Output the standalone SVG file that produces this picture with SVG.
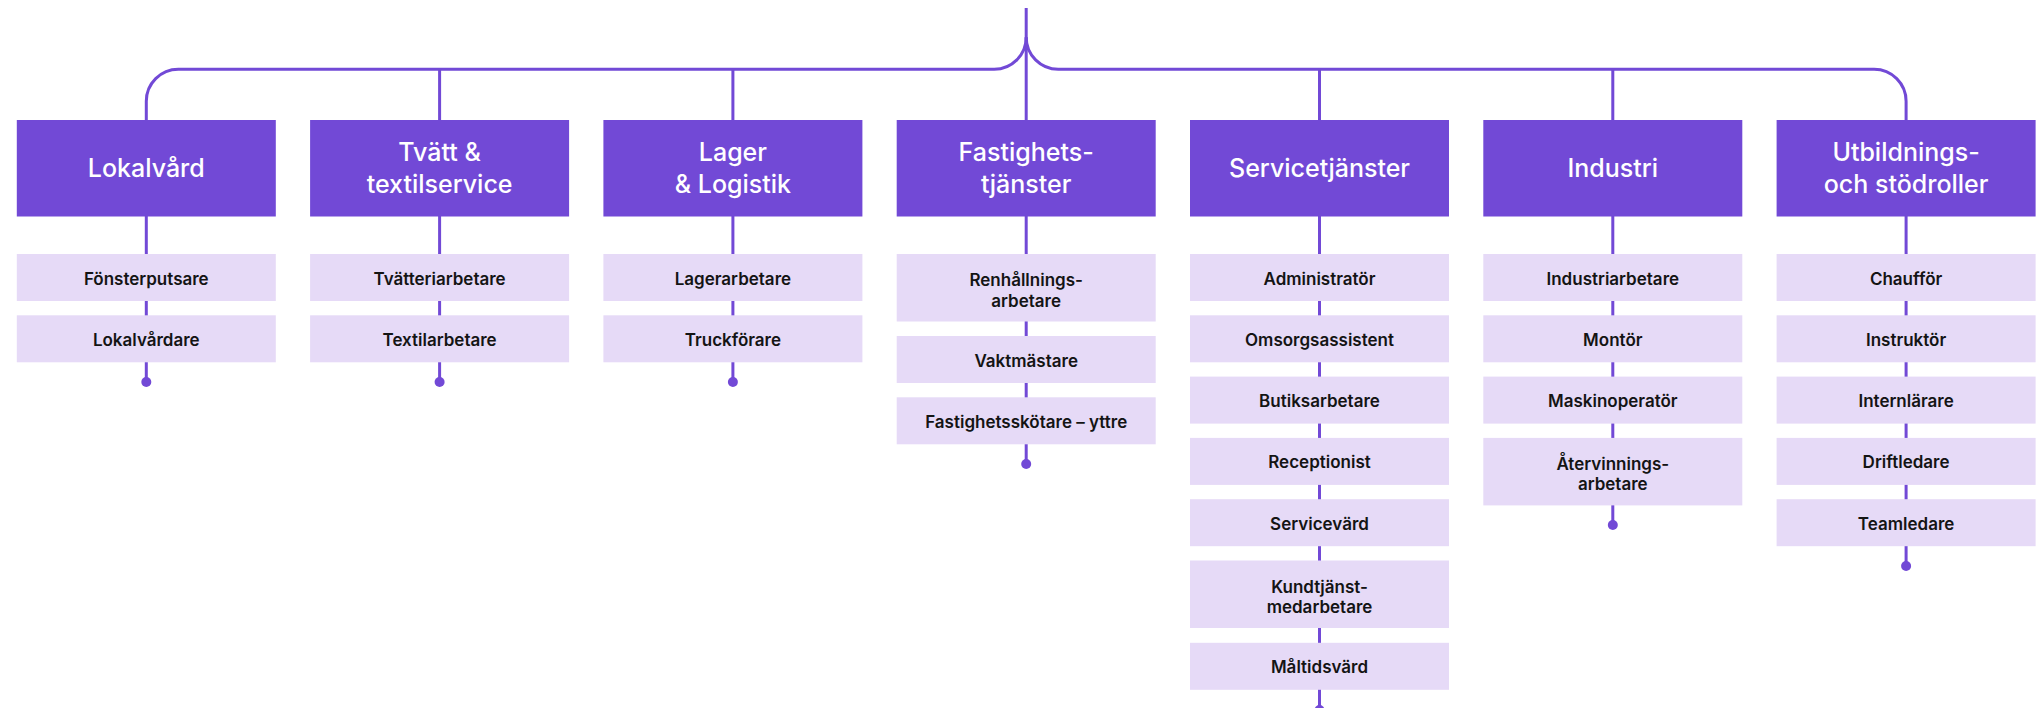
<svg xmlns="http://www.w3.org/2000/svg" width="2036" height="708" viewBox="0 0 2036 708">
<style>
.hdr{fill:#7249D6}
.itm{fill:#E6DAF7}
.ht{font-family:Inter,"Noto Sans",sans-serif;font-size:25px;font-weight:500;fill:#FFFFFF;text-anchor:middle}
.it{font-family:Inter,"Noto Sans",sans-serif;font-size:17px;font-weight:600;fill:#141414;text-anchor:middle}
.ln{fill:none;stroke:#7249D6;stroke-width:3}
.dot{fill:#7249D6}
</style>
<rect width="2036" height="708" fill="#FFFFFF"/>
<g id="connectors">
<path class="ln" d="M1026.2 8 V120"/>
<path class="ln" d="M146.3 120 V101.3 A32 32 0 0 1 178.3 69.3 H994.2 A32 32 0 0 0 1026.2 37.3"/>
<path class="ln" d="M1026.2 37.3 A32 32 0 0 0 1058.2 69.3 H1874.1 A32 32 0 0 1 1906.1 101.3 V120"/>
<path class="ln" d="M439.6 69.3 V120 M732.9 69.3 V120 M1319.5 69.3 V120 M1612.8 69.3 V120"/>
<path class="ln" d="M146.3 216 V382"/>
<path class="ln" d="M439.6 216 V382"/>
<path class="ln" d="M732.9 216 V382"/>
<path class="ln" d="M1026.2 216 V464"/>
<path class="ln" d="M1319.5 216 V710"/>
<path class="ln" d="M1612.8 216 V525"/>
<path class="ln" d="M1906.1 216 V566"/>
<circle class="dot" cx="146.3" cy="382" r="5"/>
<circle class="dot" cx="439.6" cy="382" r="5"/>
<circle class="dot" cx="732.9" cy="382" r="5"/>
<circle class="dot" cx="1026.2" cy="464" r="5"/>
<circle class="dot" cx="1319.5" cy="710" r="5"/>
<circle class="dot" cx="1612.8" cy="525" r="5"/>
<circle class="dot" cx="1906.1" cy="566" r="5"/>
</g>
<g id="h-lokalvard"><rect class="hdr" x="16.8" y="120" width="259" height="96.5"/><text class="ht" x="146.3" y="177">Lokalvård</text></g>
<g id="h-tvatt"><rect class="hdr" x="310.1" y="120" width="259" height="96.5"/><text class="ht" x="439.6" y="161">Tvätt &amp;</text><text class="ht" x="439.6" y="192.5">textilservice</text></g>
<g id="h-lager"><rect class="hdr" x="603.4" y="120" width="259" height="96.5"/><text class="ht" x="732.9" y="161">Lager</text><text class="ht" x="732.9" y="192.5">&amp; Logistik</text></g>
<g id="h-fastighet"><rect class="hdr" x="896.7" y="120" width="259" height="96.5"/><text class="ht" x="1026.2" y="161">Fastighets-</text><text class="ht" x="1026.2" y="192.5">tjänster</text></g>
<g id="h-service"><rect class="hdr" x="1190" y="120" width="259" height="96.5"/><text class="ht" x="1319.5" y="177">Servicetjänster</text></g>
<g id="h-industri"><rect class="hdr" x="1483.3" y="120" width="259" height="96.5"/><text class="ht" x="1612.8" y="177">Industri</text></g>
<g id="h-utbildning"><rect class="hdr" x="1776.6" y="120" width="259" height="96.5"/><text class="ht" x="1906.1" y="161">Utbildnings-</text><text class="ht" x="1906.1" y="192.5">och stödroller</text></g>

<g id="i-fonsterputsare"><rect class="itm" x="16.8" y="254" width="259" height="47"/><text class="it" x="146.3" y="284.5">Fönsterputsare</text></g>
<g id="i-lokalvardare"><rect class="itm" x="16.8" y="315.3" width="259" height="47"/><text class="it" x="146.3" y="345.8">Lokalvårdare</text></g>

<g id="i-tvatteriarbetare"><rect class="itm" x="310.1" y="254" width="259" height="47"/><text class="it" x="439.6" y="284.5">Tvätteriarbetare</text></g>
<g id="i-textilarbetare"><rect class="itm" x="310.1" y="315.3" width="259" height="47"/><text class="it" x="439.6" y="345.8">Textilarbetare</text></g>

<g id="i-lagerarbetare"><rect class="itm" x="603.4" y="254" width="259" height="47"/><text class="it" x="732.9" y="284.5">Lagerarbetare</text></g>
<g id="i-truckforare"><rect class="itm" x="603.4" y="315.3" width="259" height="47"/><text class="it" x="732.9" y="345.8">Truckförare</text></g>

<g id="i-renhallning"><rect class="itm" x="896.7" y="254" width="259" height="67.5"/><text class="it" x="1026.2" y="286">Renhållnings-</text><text class="it" x="1026.2" y="306.5">arbetare</text></g>
<g id="i-vaktmastare"><rect class="itm" x="896.7" y="336" width="259" height="47"/><text class="it" x="1026.2" y="366.5">Vaktmästare</text></g>
<g id="i-fastighetsskotare"><rect class="itm" x="896.7" y="397.3" width="259" height="47"/><text class="it" x="1026.2" y="427.8">Fastighetsskötare – yttre</text></g>

<g id="i-administrator"><rect class="itm" x="1190" y="254" width="259" height="47"/><text class="it" x="1319.5" y="284.5">Administratör</text></g>
<g id="i-omsorgsassistent"><rect class="itm" x="1190" y="315.3" width="259" height="47"/><text class="it" x="1319.5" y="345.8">Omsorgsassistent</text></g>
<g id="i-butiksarbetare"><rect class="itm" x="1190" y="376.6" width="259" height="47"/><text class="it" x="1319.5" y="407.1">Butiksarbetare</text></g>
<g id="i-receptionist"><rect class="itm" x="1190" y="437.9" width="259" height="47"/><text class="it" x="1319.5" y="468.4">Receptionist</text></g>
<g id="i-servicevard"><rect class="itm" x="1190" y="499.2" width="259" height="47"/><text class="it" x="1319.5" y="529.7">Servicevärd</text></g>
<g id="i-kundtjanst"><rect class="itm" x="1190" y="560.5" width="259" height="67.5"/><text class="it" x="1319.5" y="592.5">Kundtjänst-</text><text class="it" x="1319.5" y="613">medarbetare</text></g>
<g id="i-maltidsvard"><rect class="itm" x="1190" y="642.8" width="259" height="47"/><text class="it" x="1319.5" y="673.3">Måltidsvärd</text></g>

<g id="i-industriarbetare"><rect class="itm" x="1483.3" y="254" width="259" height="47"/><text class="it" x="1612.8" y="284.5">Industriarbetare</text></g>
<g id="i-montor"><rect class="itm" x="1483.3" y="315.3" width="259" height="47"/><text class="it" x="1612.8" y="345.8">Montör</text></g>
<g id="i-maskinoperator"><rect class="itm" x="1483.3" y="376.6" width="259" height="47"/><text class="it" x="1612.8" y="407.1">Maskinoperatör</text></g>
<g id="i-atervinning"><rect class="itm" x="1483.3" y="437.9" width="259" height="67.5"/><text class="it" x="1612.8" y="469.9">Återvinnings-</text><text class="it" x="1612.8" y="490.4">arbetare</text></g>

<g id="i-chauffor"><rect class="itm" x="1776.6" y="254" width="259" height="47"/><text class="it" x="1906.1" y="284.5">Chaufför</text></g>
<g id="i-instruktor"><rect class="itm" x="1776.6" y="315.3" width="259" height="47"/><text class="it" x="1906.1" y="345.8">Instruktör</text></g>
<g id="i-internlarare"><rect class="itm" x="1776.6" y="376.6" width="259" height="47"/><text class="it" x="1906.1" y="407.1">Internlärare</text></g>
<g id="i-driftledare"><rect class="itm" x="1776.6" y="437.9" width="259" height="47"/><text class="it" x="1906.1" y="468.4">Driftledare</text></g>
<g id="i-teamledare"><rect class="itm" x="1776.6" y="499.2" width="259" height="47"/><text class="it" x="1906.1" y="529.7">Teamledare</text></g>
</svg>
